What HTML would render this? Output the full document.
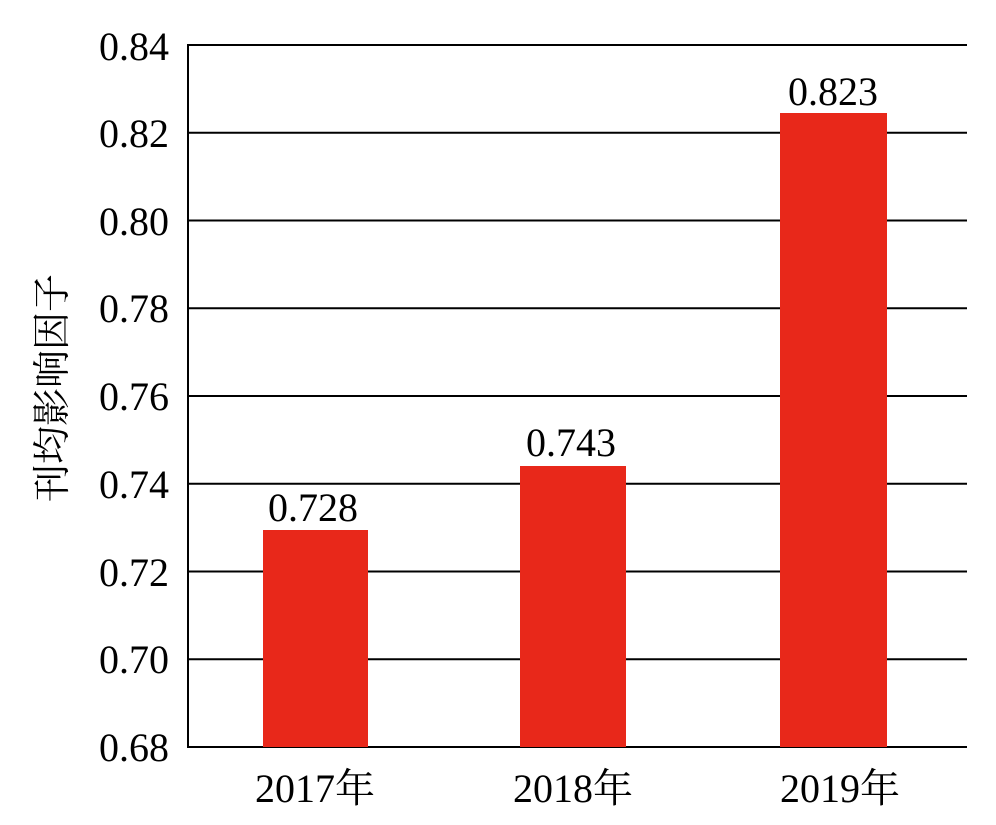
<!DOCTYPE html>
<html><head><meta charset="utf-8"><style>body{margin:0;background:#fff}
svg text{font-family:"Liberation Serif","Noto Serif CJK SC",serif;font-size:40px}
svg text.yl{font-family:"Noto Serif CJK SC",serif;font-size:38px}
</style></head><body>
<svg width="996" height="820" xmlns="http://www.w3.org/2000/svg" fill="#000">
<rect width="996" height="820" fill="#fff"/>
<g stroke="#000" stroke-width="2">
<line x1="188" y1="45" x2="967" y2="45"/>
<line x1="188" y1="132.75" x2="967" y2="132.75"/>
<line x1="188" y1="220.5" x2="967" y2="220.5"/>
<line x1="188" y1="308.25" x2="967" y2="308.25"/>
<line x1="188" y1="396" x2="967" y2="396"/>
<line x1="188" y1="483.75" x2="967" y2="483.75"/>
<line x1="188" y1="571.5" x2="967" y2="571.5"/>
<line x1="188" y1="659.25" x2="967" y2="659.25"/>
<line x1="188" y1="747" x2="967" y2="747"/>
<line x1="188" y1="44" x2="188" y2="748"/>
</g>
<g fill="#e8281a">
<rect x="263" y="530" width="105" height="217"/>
<rect x="520" y="466" width="106" height="281"/>
<rect x="780" y="113" width="107" height="634"/>
</g>
<g text-anchor="end">
<text x="169" y="60">0.84</text>
<text x="169" y="147">0.82</text>
<text x="169" y="235">0.80</text>
<text x="169" y="322">0.78</text>
<text x="169" y="410">0.76</text>
<text x="169" y="498">0.74</text>
<text x="169" y="586">0.72</text>
<text x="169" y="673">0.70</text>
<text x="169" y="761">0.68</text>
</g>
<g text-anchor="middle">
<text x="313" y="521">0.728</text>
<text x="571" y="456">0.743</text>
<text x="833" y="105">0.823</text>
<text x="315" y="802">2017年</text>
<text x="573" y="802">2018年</text>
<text x="840" y="802">2019年</text>
<text class="yl" transform="translate(52,388) rotate(-90)" dy="13">刊均影响因子</text>
</g>
</svg>
</body></html>
